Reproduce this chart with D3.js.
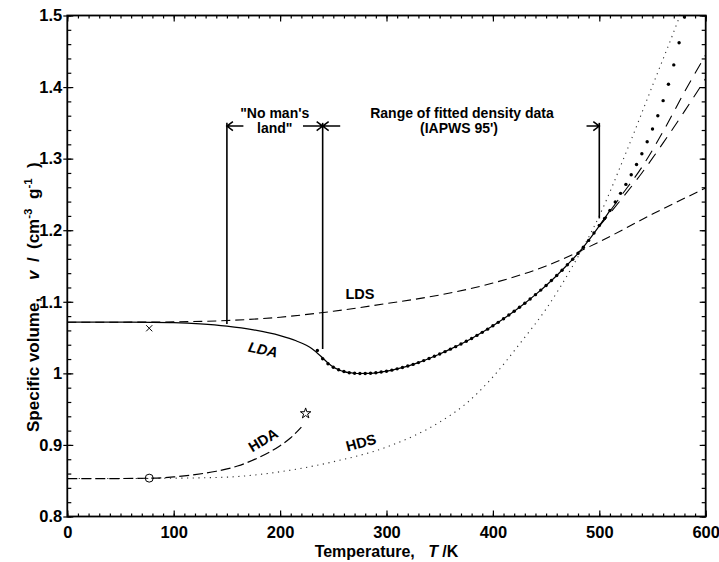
<!DOCTYPE html>
<html>
<head>
<meta charset="utf-8">
<script src="https://cdn.jsdelivr.net/npm/d3@7"></script>
<style>
  html, body { margin: 0; padding: 0; background: #fff; }
  svg { display: block; }
  text { font-family: "Liberation Sans", Arial, Helvetica, sans-serif; font-weight: bold; fill: #000; }
</style>
</head>
<body>
<svg id="chart" width="719" height="562"></svg>
<script>
// Axis ticks
const tempTicks = [0, 100, 200, 300, 400, 500, 600];
const volTicks = [0.8, 0.9, 1.0, 1.1, 1.2, 1.3, 1.4, 1.5];
const volTickLabels = ["0.8", "0.9", "1", "1.1", "1.2", "1.3", "1.4", "1.5"];

// LDA model curve (solid)
const ldaT = [0, 40, 80, 100, 125, 150, 175, 200, 215, 230, 240, 245, 250, 255, 260, 265, 270, 275, 280, 290, 300, 310, 320, 330, 340, 350, 360, 370, 380, 390, 400, 410, 420, 430, 440, 450, 460, 470, 480, 490, 500, 510];
const ldaV = [1.0715, 1.0715, 1.0713, 1.0709, 1.0692, 1.0660, 1.0608, 1.0528, 1.0455, 1.0345, 1.0215, 1.0145, 1.0088, 1.0050, 1.0025, 1.0009, 1.0001, 0.9998, 0.9999, 1.0008, 1.0030, 1.0063, 1.0102, 1.0150, 1.0207, 1.0270, 1.0338, 1.0410, 1.0488, 1.0573, 1.0665, 1.0763, 1.0868, 1.0980, 1.1100, 1.1228, 1.1368, 1.1517, 1.1676, 1.1858, 1.2060, 1.2275];

// Extrapolations above 500 K (long dash)
const extT = [500, 520, 540, 560, 580, 600];
const extAV = [1.2060, 1.2470, 1.2880, 1.3380, 1.3930, 1.4450];
const extBV = [1.2055, 1.2420, 1.2800, 1.3220, 1.3660, 1.4120];

// LDS (dashed)
const ldsT = [0, 50, 100, 150, 200, 250, 300, 350, 400, 450, 500, 550, 600];
const ldsV = [1.0715, 1.0715, 1.0720, 1.0738, 1.0785, 1.0868, 1.0975, 1.1095, 1.1262, 1.1500, 1.1838, 1.2225, 1.2590];

// HDS (dotted)
const hdsT = [0, 50, 100, 150, 200, 250, 300, 350, 375, 400, 425, 450, 475, 500, 525, 550, 575, 590];
const hdsV = [0.853, 0.853, 0.8535, 0.855, 0.8625, 0.8765, 0.897, 0.932, 0.958, 0.995, 1.041, 1.090, 1.150, 1.220, 1.308, 1.402, 1.497, 1.56];

// HDA (long dash)
const hdaT = [0, 40, 80, 100, 120, 140, 160, 180, 200, 210, 220];
const hdaV = [0.853, 0.853, 0.8536, 0.8553, 0.8585, 0.8632, 0.8705, 0.8825, 0.8990, 0.9100, 0.9250];

// Liquid water specific volume (IAPWS-95), every 5 K
const waterT = [235, 240, 245, 250, 255, 260, 265, 270, 275, 280, 285, 290, 295, 300, 305, 310, 315, 320, 325, 330, 335, 340, 345, 350, 355, 360, 365, 370, 375, 380, 385, 390, 395, 400, 405, 410, 415, 420, 425, 430, 435, 440, 445, 450, 455, 460, 465, 470, 475, 480, 485, 490, 495, 500, 505, 510, 515, 520, 525, 530, 535, 540, 545, 550, 555, 560, 565, 570, 575, 580];
const waterV = [1.0320, 1.0205, 1.0135, 1.0085, 1.0050, 1.0025, 1.0009, 1.0001, 0.9998, 0.9999, 1.0002, 1.0008, 1.0018, 1.0030, 1.0045, 1.0063, 1.0082, 1.0102, 1.0125, 1.0150, 1.0178, 1.0207, 1.0238, 1.0270, 1.0303, 1.0338, 1.0373, 1.0410, 1.0449, 1.0488, 1.0530, 1.0573, 1.0618, 1.0665, 1.0713, 1.0763, 1.0815, 1.0868, 1.0923, 1.0980, 1.1039, 1.1100, 1.1163, 1.1228, 1.1297, 1.1368, 1.1441, 1.1517, 1.1595, 1.1676, 1.1763, 1.1858, 1.1962, 1.2065, 1.2165, 1.2275, 1.2395, 1.2515, 1.2640, 1.2775, 1.2918, 1.3068, 1.3235, 1.3415, 1.3600, 1.3810, 1.4040, 1.4310, 1.4620, 1.4980];

// Single measured states: LDA at 77 K, HDA at 77 K, HDA at 224 K
const markT = [77, 77, 224];
const markV = [1.063, 0.8536, 0.944];
const markShape = ["cross", "circle", "star"];

// Range boundaries (K) and the volume where each marker line stops
const boundT = [150, 240, 500];
const boundV = [1.069, 1.034, 1.2165];

const svg = d3.select("#chart");
const x = d3.scaleLinear().domain([0, 600]).range([67.3, 705.7]);
const y = d3.scaleLinear().domain([0.8, 1.5]).range([516.5, 15.5]);

svg.append("rect").attr("width", 719).attr("height", 562).attr("fill", "#fff");

svg.append("clipPath").attr("id", "plotclip")
  .append("rect").attr("x", x(0)).attr("y", y(1.5) - 2).attr("width", x(600) - x(0)).attr("height", y(0.8) - y(1.5) + 2);

const plot = svg.append("g").attr("clip-path", "url(#plotclip)");

const zip = (ts, vs) => ts.map((t, i) => [t, vs[i]]);
const line = d3.line().x(d => x(d[0])).y(d => y(d[1])).curve(d3.curveMonotoneX);

function drawCurve(ts, vs, dash, width, color) {
  plot.append("path")
    .attr("d", line(zip(ts, vs)))
    .attr("fill", "none")
    .attr("stroke", color || "#000")
    .attr("stroke-width", width)
    .attr("stroke-dasharray", dash);
}

drawCurve(hdsT, hdsV, "1.2,4.5", 1.1, "#333");
drawCurve(ldsT, ldsV, "9,5", 1.1);
drawCurve(hdaT, hdaV, "10,4", 1.2);
drawCurve(ldaT, ldaV, null, 1.2);
drawCurve(extT, extAV, "12,8", 1.1);
drawCurve(extT, extBV, "12,8", 1.1);

plot.append("g").selectAll("circle")
  .data(zip(waterT, waterV))
  .join("circle")
  .attr("cx", d => x(d[0]))
  .attr("cy", d => y(d[1]))
  .attr("r", 1.7)
  .attr("fill", "#000");

// Markers
const symbolType = { cross: d3.symbolX, circle: d3.symbolCircle, star: d3.symbolStar };
const symbolSize = { cross: 26, circle: 50, star: 34 };
svg.append("g").selectAll("path")
  .data(markT.map((t, i) => ({ t, v: markV[i], s: markShape[i] })))
  .join("path")
  .attr("transform", d => `translate(${x(d.t)},${y(d.v)})`)
  .attr("d", d => d3.symbol().type(symbolType[d.s]).size(symbolSize[d.s])())
  .attr("fill", "none")
  .attr("stroke", "#000")
  .attr("stroke-width", 1);

// Curve labels
const curveLabels = [
  { text: "LDS", t: 275, v: 1.1107, rot: 0, italic: false },
  { text: "LDA", t: 184, v: 1.0335, rot: 12, italic: true },
  { text: "HDA", t: 184, v: 0.907, rot: -31, italic: false },
  { text: "HDS", t: 276, v: 0.9035, rot: -15, italic: false }
];
svg.append("g").selectAll("text")
  .data(curveLabels)
  .join("text")
  .attr("transform", d => `translate(${x(d.t)},${y(d.v)}) rotate(${d.rot})`)
  .attr("text-anchor", "middle")
  .attr("dy", "0.36em")
  .attr("font-size", 14.5)
  .attr("font-style", d => d.italic ? "italic" : "normal")
  .text(d => d.text);

// Range marker lines and arrows
const topV = 1.35, arrowV = 1.3455;
const ann = svg.append("g").attr("stroke", "#000").attr("fill", "none");
boundT.forEach((t, i) => {
  ann.append("line")
    .attr("x1", x(t)).attr("x2", x(t))
    .attr("y1", y(topV)).attr("y2", y(boundV[i]))
    .attr("stroke-width", 1.6);
});
function arrow(tTip, tTail) {
  const xt = x(tTip), xa = x(tTail), yy = y(arrowV);
  const dir = xt < xa ? 1 : -1;
  ann.append("path")
    .attr("d", `M${xa},${yy}H${xt}M${xt + dir * 6},${yy - 4.5}L${xt},${yy}L${xt + dir * 6},${yy + 4.5}`)
    .attr("stroke-width", 1.5);
}
arrow(150, 165.5);
arrow(240, 221.5);
arrow(240, 256.5);
arrow(500, 488);

const annText = svg.append("g").attr("text-anchor", "middle").attr("font-size", 14);
annText.append("text").attr("x", x((boundT[0] + boundT[1]) / 2)).attr("y", 118).text("\"No man's");
annText.append("text").attr("x", x((boundT[0] + boundT[1]) / 2)).attr("y", 132.5).text("land\"");
annText.append("text").attr("x", x((boundT[1] + boundT[2]) / 2) + 1).attr("y", 118).text("Range of fitted density data");
annText.append("text").attr("x", x((boundT[1] + boundT[2]) / 2) - 2).attr("y", 132.5).text("(IAPWS 95')");

// Axes
const tempMinor = d3.range(0, 601, 10);
const volMinor = d3.range(0, 36).map(i => +(0.8 + i * 0.02).toFixed(2));

function plainAxis(g) { g.select(".domain").remove(); g.selectAll(".tick line").attr("stroke-width", 1.2); }

svg.append("g").attr("transform", `translate(0,${y(0.8)})`)
  .call(d3.axisBottom(x).tickValues(tempMinor).tickSize(-3).tickFormat(""))
  .call(plainAxis);
svg.append("g").attr("transform", `translate(0,${y(0.8)})`)
  .call(d3.axisBottom(x).tickValues(tempTicks).tickSize(-6).tickPadding(10).tickFormat(d3.format("d")))
  .call(plainAxis)
  .call(g => g.selectAll("text").attr("font-size", 16.5).attr("font-family", null));

svg.append("g").attr("transform", `translate(0,${y(1.5)})`)
  .call(d3.axisTop(x).tickValues(tempMinor).tickSize(-3).tickFormat(""))
  .call(plainAxis);
svg.append("g").attr("transform", `translate(0,${y(1.5)})`)
  .call(d3.axisTop(x).tickValues(tempTicks).tickSize(-6).tickFormat(""))
  .call(plainAxis);

svg.append("g").attr("transform", `translate(${x(0)},0)`)
  .call(d3.axisLeft(y).tickValues(volMinor).tickSize(-4).tickFormat(""))
  .call(plainAxis);
svg.append("g").attr("transform", `translate(${x(0)},0)`)
  .call(d3.axisLeft(y).tickValues(volTicks).tickSize(-6).tickFormat(""))
  .call(plainAxis);
svg.append("g").attr("transform", `translate(${x(0)},0)`)
  .call(d3.axisLeft(y).tickValues(volTicks).tickSize(4).tickPadding(1).tickFormat((d, i) => volTickLabels[i]))
  .call(plainAxis)
  .call(g => g.selectAll("text").attr("font-size", 16.5).attr("font-family", null));

svg.append("g").attr("transform", `translate(${x(600)},0)`)
  .call(d3.axisRight(y).tickValues(volMinor).tickSize(-4).tickFormat(""))
  .call(plainAxis);
svg.append("g").attr("transform", `translate(${x(600)},0)`)
  .call(d3.axisRight(y).tickValues(volTicks).tickSize(-6).tickFormat(""))
  .call(plainAxis);

svg.append("rect")
  .attr("x", x(0)).attr("y", y(1.5))
  .attr("width", x(600) - x(0)).attr("height", y(0.8) - y(1.5))
  .attr("fill", "none").attr("stroke", "#000").attr("stroke-width", 1.8);

// Axis titles
const xt = svg.append("text").attr("x", (x(0) + x(600)) / 2).attr("y", 557).attr("text-anchor", "middle").attr("font-size", 16);
xt.append("tspan").text("Temperature,\u00a0\u00a0 ");
xt.append("tspan").attr("font-style", "italic").text("T");
xt.append("tspan").text(" /K");

// Vertical title, laid out along the rotated baseline (x runs upward on screen)
const yt = svg.append("text").attr("transform", "translate(39,0) rotate(-90)").attr("font-size", 17);
yt.append("tspan").attr("x", -432).text("Specific volume,");
yt.append("tspan").attr("x", -280).attr("font-style", "italic").text("v");
yt.append("tspan").attr("x", -262).text("/");
yt.append("tspan").attr("x", -249).text("(cm");
yt.append("tspan").attr("font-size", 11.5).attr("dy", -7).text("-3");
yt.append("tspan").attr("x", -199).attr("dy", 7).text("g");
yt.append("tspan").attr("font-size", 11.5).attr("dy", -7).text("-1");
yt.append("tspan").attr("x", -168).attr("dy", 7).text(")");
</script>
</body>
</html>
